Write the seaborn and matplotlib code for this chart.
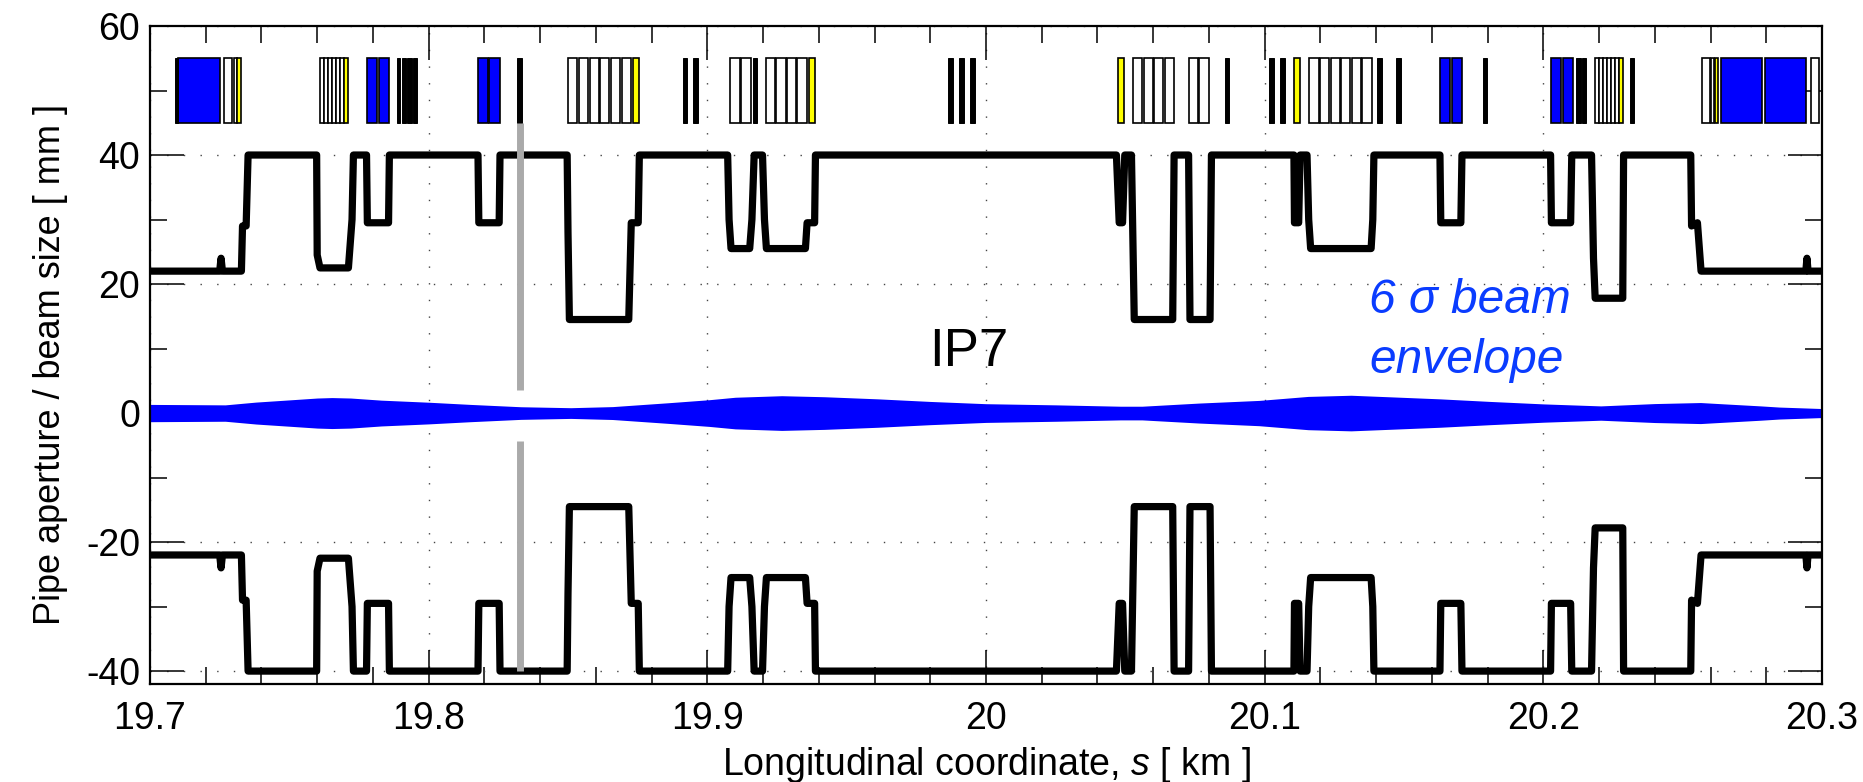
import matplotlib
matplotlib.use("Agg")
import matplotlib.pyplot as plt
from matplotlib.ticker import MultipleLocator
import pandas as pd
import seaborn as sns

# Aperture profile (km, mm)
aperture_s = [19.700,19.7250,19.7255,19.7260,19.7328,19.7332,19.7345,19.7352,19.7598,19.7600,19.7610,19.7712,19.7725,19.7730,
 19.7777,19.7780,19.7856,19.7859,19.8177,19.8180,19.8253,19.8256,19.8497,19.8500,19.8505,19.8718,19.8727,19.8752,19.8756,
 19.9073,19.9078,19.9085,19.9152,19.9160,19.9168,19.9198,19.9205,19.9212,19.9352,19.9358,19.9385,19.9388,
 20.0468,20.0478,20.0490,20.0498,20.0522,20.0532,20.0670,20.0675,20.0727,20.0732,20.0804,20.0809,
 20.1105,20.1107,20.1122,20.1127,20.1152,20.1158,20.1165,20.1382,20.1388,20.1392,
 20.1629,20.1632,20.1704,20.1708,20.2026,20.2029,20.2098,20.2102,20.2173,20.2180,20.2186,20.2285,20.2288,
 20.2529,20.2532,20.2553,20.2566,20.2942,20.2946,20.2950,20.300]
aperture_up = [22,22,24,22,22,29,29,40,40,24.5,22.5,22.5,30,40,
 40,29.5,29.5,40,40,29.5,29.5,40,40,28,14.5,14.5,29.5,29.5,40,
 40,30,25.5,25.5,30,40,40,30,25.5,25.5,29.5,29.5,40,
 40,29.5,29.5,40,40,14.5,14.5,40,40,14.5,14.5,40,
 40,29.5,29.5,40,40,30,25.5,25.5,30,40,
 40,29.5,29.5,40,40,29.5,29.5,40,40,24,17.8,17.8,40,
 40,29,29.5,22,22,24,22,22]
aperture_low = [-22,-22,-24,-22,-22,-29,-29,-40,-40,-24.5,-22.5,-22.5,-30,-40,
 -40,-29.5,-29.5,-40,-40,-29.5,-29.5,-40,-40,-28,-14.5,-14.5,-29.5,-29.5,-40,
 -40,-30,-25.5,-25.5,-30,-40,-40,-30,-25.5,-25.5,-29.5,-29.5,-40,
 -40,-29.5,-29.5,-40,-40,-14.5,-14.5,-40,-40,-14.5,-14.5,-40,
 -40,-29.5,-29.5,-40,-40,-30,-25.5,-25.5,-30,-40,
 -40,-29.5,-29.5,-40,-40,-29.5,-29.5,-40,-40,-24,-17.8,-17.8,-40,
 -40,-29,-29.5,-22,-22,-24,-22,-22]

# 6 sigma beam half width (km, mm)
beam_s = [19.700,19.727,19.738,19.751,19.760,19.7653,19.772,19.783,19.800,19.815,19.833,19.851,19.866,19.886,19.9007,19.910,19.9267,
 19.942,19.9613,19.980,20.000,20.0253,20.0483,20.056,20.0765,20.098,20.1156,20.131,20.146,20.163,20.181,20.200,20.2206,20.240,
 20.2564,20.265,20.278,20.2846,20.300]
beam_half = [1.34,1.27,1.70,2.07,2.33,2.40,2.33,2.00,1.68,1.34,0.98,0.83,1.00,1.60,2.07,2.45,2.69,
 2.53,2.20,1.80,1.45,1.27,1.06,1.06,1.55,1.96,2.58,2.76,2.50,2.20,1.80,1.42,1.11,1.47,
 1.63,1.42,1.11,0.93,0.70]

# Magnets (start, end in km)
blue_start = [19.7102,19.7777,19.7820,19.8177,19.8217,20.1629,20.1672,20.2026,20.2069,20.2639,20.2795]
blue_end   = [19.7251,19.7816,19.7859,19.8214,19.8256,20.1665,20.1708,20.2062,20.2105,20.2783,20.2941]
white_start = [19.7265,19.7300,19.7611,19.7625,19.7640,19.7654,19.7668,19.7683,
 19.8501,19.8540,19.8579,19.8616,19.8654,19.8692,19.9083,19.9120,19.9209,19.9248,19.9287,19.9321,
 20.0526,20.0566,20.0604,20.0641,20.0727,20.0765,20.1160,20.1198,20.1237,20.1275,20.1313,20.1351,
 20.2185,20.2200,20.2214,20.2229,20.2243,20.2258,20.2568,20.2600,20.2959]
white_end   = [19.7296,19.7311,19.7624,19.7639,19.7653,19.7667,19.7682,19.7696,
 19.8534,19.8573,19.8611,19.8648,19.8686,19.8726,19.9118,19.9155,19.9242,19.9281,19.9318,19.9356,
 20.0561,20.0600,20.0636,20.0675,20.0762,20.0800,20.1194,20.1232,20.1270,20.1308,20.1347,20.1384,
 20.2199,20.2213,20.2228,20.2242,20.2257,20.2272,20.2597,20.2613,20.2990]
yellow_start = [19.7312,19.7697,19.8734,19.9366,20.0474,20.1106,20.2273,20.2615]
yellow_end   = [19.7325,19.7710,19.8754,19.9387,20.0495,20.1128,20.2287,20.2627]
black_start = [19.7090,19.7886,19.7904,19.7924,19.7945,19.8318,19.8911,19.8949,19.9165,19.9864,19.9904,19.9943,
 20.0856,20.1017,20.1056,20.1404,20.1473,20.1782,20.2119,20.2138,20.2310]
black_end   = [19.7099,19.7897,19.7918,19.7939,19.7959,19.8335,19.8927,19.8967,19.9180,19.9880,19.9921,19.9960,
 20.0872,20.1033,20.1073,20.1420,20.1490,20.1799,20.2135,20.2154,20.2327]
magnet_bottom, magnet_top = 45, 55

# Interaction point marker
ip_s = 19.8328
ip_upper = [3.5, 45]
ip_lower = [-40, -4.4]

x_ticks = [19.7, 19.8, 19.9, 20.0, 20.1, 20.2, 20.3]
x_labels = ["19.7", "19.8", "19.9", "20", "20.1", "20.2", "20.3"]
y_ticks = [-40, -20, 0, 20, 40, 60]
y_labels = ["-40", "-20", "0", "20", "40", "60"]

sns.set_theme(style="white")
plt.rcParams["font.family"] = ["Liberation Sans", "DejaVu Sans"]
plt.rcParams["mathtext.fontset"] = "custom"
plt.rcParams["mathtext.it"] = "Liberation Sans:italic"
plt.rcParams["mathtext.rm"] = "Liberation Sans"

fig = plt.figure(figsize=(18.63, 7.82), dpi=100)
ax = fig.add_axes([150/1863, 1-684/782, (1822-150)/1863, (684-26)/782])

aperture = pd.DataFrame({"s": aperture_s, "up": aperture_up, "low": aperture_low})
for col in ["up", "low"]:
    sns.lineplot(data=aperture, x="s", y=col, ax=ax, color="black", lw=5.2, sort=False,
                 estimator=None, solid_joinstyle="round", solid_capstyle="round", zorder=3)

ax.fill_between(beam_s, [-v for v in beam_half], beam_half, color="#0000ff", lw=0, zorder=5)

def magnets(starts, ends, color, lw=1.2):
    ax.bar(starts, magnet_top - magnet_bottom, width=[e - b for b, e in zip(starts, ends)],
           bottom=magnet_bottom, align="edge", color=color, edgecolor="black", linewidth=lw, zorder=4)

magnets(white_start, white_end, "white")
magnets(yellow_start, yellow_end, "#ffff00")
magnets(blue_start, blue_end, "#0000ff")
magnets(black_start, black_end, "black", lw=0.7)

ax.plot([ip_s, ip_s], ip_upper, color="#aaaaaa", lw=5, solid_capstyle="butt", zorder=6)
ax.plot([ip_s, ip_s], ip_lower, color="#aaaaaa", lw=5, solid_capstyle="butt", zorder=6)

ax.text(19.9939, 9.5, "IP7", fontsize=38, color="black", ha="center", va="center", zorder=7)
ax.text(20.1736, 17.4, "6 σ beam", fontsize=34.5, style="italic", color="#0a3cff", ha="center", va="center", zorder=7)
ax.text(20.1725, 8.2, "envelope", fontsize=34.5, style="italic", color="#0a3cff", ha="center", va="center", zorder=7)

ax.set_xlim(19.7, 20.3)
ax.set_ylim(-42, 60)
ax.set_xticks(x_ticks, x_labels)
ax.set_yticks(y_ticks, y_labels)
ax.xaxis.set_minor_locator(MultipleLocator(0.02))
ax.yaxis.set_minor_locator(MultipleLocator(10))
ax.tick_params(which="major", direction="in", length=24.5, width=1.1, top=True, right=True, bottom=True, left=True,
               labelsize=27, color="black", labelcolor="black")
ax.tick_params(axis="x", which="major", pad=12)
ax.tick_params(axis="y", which="major", pad=7)
ax.tick_params(which="minor", direction="in", length=12, width=1.1, top=True, right=True, bottom=True, left=True, color="black")
ax.grid(True, which="major", color="#444444", linestyle=(0, (1, 11)), linewidth=1.0, zorder=0)
ax.set_axisbelow(True)
for sp in ax.spines.values():
    sp.set_visible(True)
    sp.set_linewidth(1.6)
    sp.set_color("black")
    sp.set_zorder(8)

ax.set_xlabel(r"Longitudinal coordinate, $\mathit{s}$ [ km ]", fontsize=27, color="black", labelpad=6)
ax.set_ylabel("Pipe aperture / beam size [ mm ]", fontsize=26, color="black")
ax.yaxis.set_label_coords(-0.049, 0.486)

fig.savefig("out.png", dpi=100, facecolor="white")
